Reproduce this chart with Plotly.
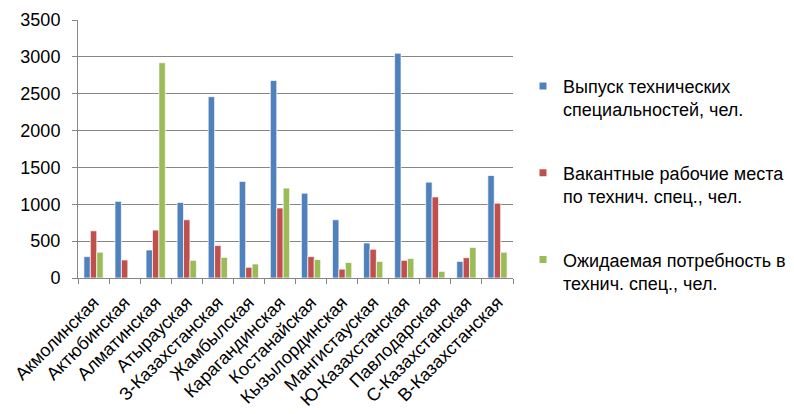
import plotly.graph_objects as go

regions = ["Акмолинская", "Актюбинская", "Алматинская", "Атырауская", "З-Казахстанская",
           "Жамбылская", "Карагандинская", "Костанайская", "Кызылординская", "Мангистауская",
           "Ю-Казахстанская", "Павлодарская", "С-Казахстанская", "В-Казахстанская"]
vypusk = [290, 1040, 380, 1025, 2460, 1310, 2680, 1150, 790, 475, 3050, 1300, 225, 1390]
vakant = [640, 245, 650, 790, 440, 145, 950, 290, 120, 390, 240, 1100, 275, 1015]
potreb = [350, 0, 2920, 240, 280, 190, 1220, 250, 210, 225, 265, 90, 415, 350]

names = ["Выпуск технических<br>специальностей, чел.",
         "Вакантные рабочие места<br>по технич. спец., чел.",
         "Ожидаемая потребность в<br>технич. спец., чел."]
colors = ["#4F81BD", "#C0504D", "#9BBB59"]

fig = go.Figure()
for i, (vals, nm, col) in enumerate(zip([vypusk, vakant, potreb], names, colors)):
    fig.add_trace(go.Bar(x=regions, y=vals, name=nm, showlegend=False,
                         marker=dict(color=col, line=dict(color="white", width=0.7))))
for i, (nm, col) in enumerate(zip(names, colors)):
    fig.add_trace(go.Scatter(x=[None], y=[None], mode="markers", name=nm, legendgroup=str(i),
                             marker=dict(symbol="square", size=7, color=col)))

fig.update_layout(
    width=786, height=406,
    paper_bgcolor="white", plot_bgcolor="white",
    margin=dict(l=70, r=281, t=12, b=136, autoexpand=False),
    barmode="group", bargap=0.38, bargroupgap=0.0,
    font=dict(family="Liberation Sans, Arial", size=18, color="#000000"),
    showlegend=True,
    legend=dict(x=1.023, y=0.815, xanchor="left", yanchor="top", valign="top",
                tracegroupgap=37, font=dict(size=18), itemwidth=30,
                bgcolor="rgba(0,0,0,0)"),
    xaxis=dict(tickangle=-45, showline=True, linecolor="#868686", linewidth=1,
               ticks="outside", tickson="boundaries", ticklen=5, tickcolor="#868686",
               ticklabelstandoff=6,
               showgrid=False, tickfont=dict(size=18), automargin=False),
    yaxis=dict(range=[0, 3500], dtick=500, showgrid=True, gridcolor="#868686", gridwidth=1,
               showline=True, linecolor="#868686", linewidth=1, zeroline=False,
               ticks="outside", ticklen=5, tickcolor="#868686", ticklabelstandoff=8,
               tickfont=dict(size=18), automargin=False),
)

fig.write_html("out.html")
